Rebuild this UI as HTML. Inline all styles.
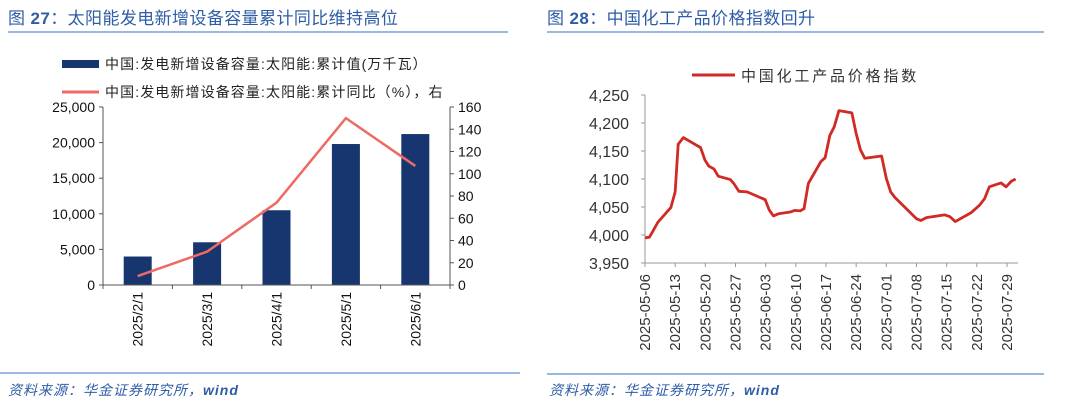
<!DOCTYPE html>
<html><head><meta charset="utf-8">
<style>
html,body{margin:0;padding:0;background:#fff;width:1080px;height:412px;overflow:hidden}
svg{display:block;font-family:"Liberation Sans","Noto Sans CJK SC",sans-serif}
</style></head><body>
<svg id="s" width="1080" height="412" xmlns="http://www.w3.org/2000/svg">
<g>
<text x="8" y="24" font-size="17" fill="#2e5ca6" letter-spacing="0.4">图 <tspan font-weight="bold">27</tspan>：太阳能发电新增设备容量累计同比维持高位</text>
<line x1="8" y1="32" x2="508" y2="32" stroke="#5b8fd1" stroke-width="1.2"/>
<rect x="62" y="60" width="37" height="8" fill="#17366f"/>
<text x="105" y="69" font-size="14" fill="#222" letter-spacing="1.1">中国:发电新增设备容量:太阳能:累计值(万千瓦）</text>
<line x1="62" y1="92" x2="99" y2="92" stroke="#ee6a64" stroke-width="3"/>
<text x="105" y="97" font-size="14" fill="#222" letter-spacing="1.1">中国:发电新增设备容量:太阳能:累计同比（%），右</text>
<g id="lc"></g>
<line x1="0" y1="373" x2="520" y2="373" stroke="#5b8fd1" stroke-width="1.2"/>
<text x="8" y="395" font-size="14" fill="#2e5ca6" font-style="italic" letter-spacing="1">资料来源：华金证券研究所，<tspan font-weight="bold">wind</tspan></text>
</g>
<g>
<text x="547" y="24" font-size="17" fill="#2e5ca6" letter-spacing="0.4">图 <tspan font-weight="bold">28</tspan>：中国化工产品价格指数回升</text>
<line x1="547" y1="32" x2="1044" y2="32" stroke="#5b8fd1" stroke-width="1.2"/>
<line x1="692" y1="75" x2="735" y2="75" stroke="#d12a24" stroke-width="3"/>
<text x="741" y="81" font-size="15" fill="#333" letter-spacing="2.8">中国化工产品价格指数</text>
<g id="rc"></g>
<line x1="547" y1="374" x2="1044" y2="374" stroke="#5b8fd1" stroke-width="1.2"/>
<text x="549" y="395" font-size="14" fill="#2e5ca6" font-style="italic" letter-spacing="1">资料来源：华金证券研究所，<tspan font-weight="bold">wind</tspan></text>
</g>
</svg>
<script>
const barCats=["2025/2/1","2025/3/1","2025/4/1","2025/5/1","2025/6/1"];
const barVals=[4000,6000,10500,19800,21200];
const yoyVals=[8,30,74,150,107];
const leftTicks=[0,5000,10000,15000,20000,25000];
const rightTicks=[0,20,40,60,80,100,120,140,160];
const idxDays=[0,1,1.7,3,6,7,7.7,8.9,12.9,13.9,14.8,16,17,19.8,20.6,21.8,23.7,27.9,28.8,29.8,31,33.7,34.8,36,36.9,37.9,40.8,41.8,42.9,43.9,45,48,49,50,51,54.9,56,57,58,63,64,65.3,69.5,70.7,72,75.7,77.6,78.8,79.9,82.6,83.8,85,86];
const idxVals=[3995,3996,4005,4023,4049,4077,4162,4174,4156,4134,4123,4118,4105,4099,4092,4078,4077,4063,4045,4034,4038,4041,4044,4043,4047,4092,4131,4138,4178,4193,4222,4218,4181,4152,4137,4141,4101,4077,4067,4029,4026,4031,4036,4033,4024,4040,4053,4065,4086,4093,4086,4096,4100];
const idxTicks=[3950,4000,4050,4100,4150,4200,4250];
const dateLabels=["2025-05-06","2025-05-13","2025-05-20","2025-05-27","2025-06-03","2025-06-10","2025-06-17","2025-06-24","2025-07-01","2025-07-08","2025-07-15","2025-07-22","2025-07-29"];
const NS="http://www.w3.org/2000/svg";
function mk(p,t,a,txt){const e=document.createElementNS(NS,t);for(const k in a)e.setAttribute(k,a[k]);if(txt!==undefined)e.textContent=txt;p.appendChild(e);return e;}
const lc=document.getElementById('lc');
const L0=103,L1=450,T=107,B=285;
const yL=v=>B-(v/25000)*(B-T), yR=v=>B-(v/160)*(B-T);
const cw=(L1-L0)/barCats.length, xC=i=>L0+cw*(i+0.5);
let e;
e=mk(lc,'line',{x1:L0,y1:T,x2:L0,y2:B,stroke:'#555'});


e=mk(lc,'line',{x1:L1,y1:T,x2:L1,y2:B,stroke:'#555'});


leftTicks.forEach(v=>{mk(lc,'line',{x1:L0-4,y1:yL(v),x2:L0,y2:yL(v),stroke:'#555'});
e=mk(lc,'text',{x:L0-8,y:yL(v)+5,'font-size':14,'text-anchor':'end',fill:'#111'},v.toLocaleString('en-US'));

});
rightTicks.forEach(v=>{mk(lc,'line',{x1:L1,y1:yR(v),x2:L1+4,y2:yR(v),stroke:'#555'});
e=mk(lc,'text',{x:L1+8,y:yR(v)+5,'font-size':14,fill:'#111'},v);

});
barCats.forEach((c,i)=>{
e=mk(lc,'rect',{x:xC(i)-14,y:yL(barVals[i]),width:28,height:B-yL(barVals[i]),fill:'#17366f'});


const x=xC(i);
e=mk(lc,'text',{x:0,y:0,'font-size':14,'text-anchor':'end',fill:'#111',transform:`translate(${x+5},292) rotate(-90)`},c);

});
for(let i=0;i<=barCats.length;i++)mk(lc,'line',{x1:L0+cw*i,y1:B,x2:L0+cw*i,y2:B+4,stroke:'#555'});
e=mk(lc,'line',{x1:L0-4,y1:B,x2:L1+4,y2:B,stroke:'#555'});


e=mk(lc,'polyline',{points:yoyVals.map((v,i)=>xC(i)+','+yR(v)).join(' '),fill:'none',stroke:'#ee6a64','stroke-width':2.5});


const rc=document.getElementById('rc');
const R0=645,R1=1018,RT=95,RB=263;
const yI=v=>RB-(v-3950)/300*(RB-RT);
const dayW=(1007-R0)/84, xD=d=>R0+d*dayW;
e=mk(rc,'line',{x1:R0,y1:RT,x2:R0,y2:RB,stroke:'#999'});


e=mk(rc,'line',{x1:R0,y1:RB,x2:R1,y2:RB,stroke:'#999'});


idxTicks.forEach(v=>{mk(rc,'line',{x1:R0-4,y1:yI(v),x2:R0,y2:yI(v),stroke:'#999'});
e=mk(rc,'text',{x:R0-16,y:yI(v)+6,'font-size':16,'text-anchor':'end',fill:'#333'},v.toLocaleString('en-US'));

});
dateLabels.forEach((d,i)=>{const x=xD(i*7);
mk(rc,'line',{x1:x,y1:RB,x2:x,y2:RB+4,stroke:'#999'});
e=mk(rc,'text',{x:0,y:0,'font-size':15,'text-anchor':'end',fill:'#333',transform:`translate(${x+5},274) rotate(-90)`},d);

});
e=mk(rc,'polyline',{points:idxDays.map((d,i)=>xD(d)+','+yI(idxVals[i])).join(' '),fill:'none',stroke:'#d12a24','stroke-width':2.8,'stroke-linejoin':'round'});


</script>
</body></html>
